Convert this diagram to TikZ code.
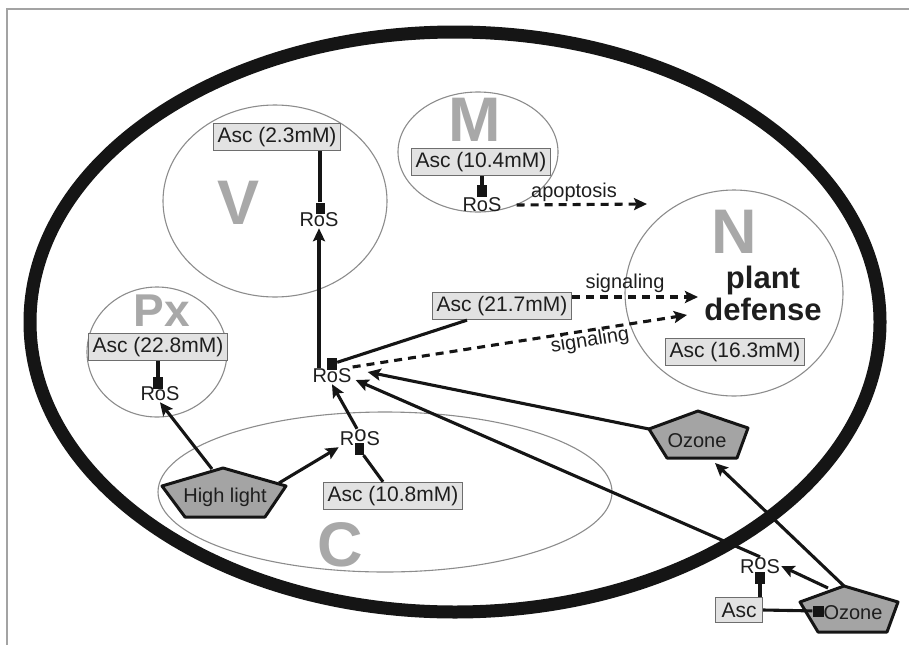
\documentclass[tikz,border=0pt]{standalone}
\usepackage{fontspec}
\setmainfont{Liberation Sans}
\usetikzlibrary{arrows.meta}
\definecolor{letgray}{HTML}{A8A8A8}
\definecolor{ascfill}{HTML}{E2E2E2}
\definecolor{ascdraw}{HTML}{6E6E6E}
\definecolor{pentfill}{HTML}{A4A4A4}
\definecolor{txt}{HTML}{1E1E1E}
\definecolor{thin}{HTML}{8C8C8C}
\definecolor{ink}{HTML}{151515}
\begin{document}
\begin{tikzpicture}[x=1pt,y=-1pt,
  organelle/.style={draw=thin, line width=1.1pt},
  bigletter/.style={text=letgray, font=\fontsize{63}{63}\selectfont\bfseries, inner sep=0pt},
  asc/.style={draw=ascdraw, fill=ascfill, line width=1.3pt, font=\fontsize{21}{23}\selectfont, text=txt, inner xsep=4pt, inner ysep=1pt, minimum height=27pt},
  ros/.style={font=\fontsize{20}{22}\selectfont, text=txt, inner sep=1pt},
  lbl/.style={font=\fontsize{20}{22}\selectfont, text=txt, inner sep=0pt},
  inh/.style={fill=ink, minimum width=10pt, minimum height=12pt, inner sep=0pt},
  link/.style={line width=3.1pt, draw=ink},
  arr/.style={link, -{Stealth[length=13pt,width=12pt,inset=2.5pt]}},
  dasharr/.style={arr, dash pattern=on 8pt off 6pt},
  pent/.style={draw=ink, fill=pentfill, line width=3pt, line join=round}
]
\useasboundingbox (0,0) rectangle (909,645);
% frame
\draw[thin!80, line width=1.3pt] (7,645) -- (7,9) -- (909,9);
% cell wall
\draw[ink, line width=13pt] (455,322) ellipse [x radius=425pt, y radius=290pt];
% organelles
\draw[organelle] (275,201) ellipse [x radius=112pt, y radius=96pt];
\draw[organelle] (478,152) ellipse [x radius=80pt, y radius=60pt];
\draw[organelle] (734,293) ellipse [x radius=109pt, y radius=103pt];
\draw[organelle] (157,352) ellipse [x radius=70pt, y radius=65pt];
\draw[organelle] (385,492) ellipse [x radius=227pt, y radius=80pt];
% big letters
\node[bigletter] (lV) at (239,203) {V};
\node[bigletter] (lM) at (475,120) {M};
\node[bigletter] (lN) at (734,232) {N};
\node[bigletter] (lC) at (340,545) {C};
\node[bigletter, font=\fontsize{46}{46}\selectfont\bfseries] (lPx) at (162,311) {Px};
% plant defense
\node[font=\fontsize{31}{32}\selectfont\bfseries, text=txt, align=center, inner sep=0pt] (pd) at (763,293) {plant\\defense};
% Asc boxes
\node[asc] (ascV) at (277,137) {Asc (2.3mM)};
\node[asc] (ascM) at (481,162) {Asc (10.4mM)};
\node[asc] (ascPx) at (158,347) {Asc (22.8mM)};
\node[asc] (ascCyt) at (502,306) {Asc (21.7mM)};
\node[asc] (ascN) at (735,352) {Asc (16.3mM)};
\node[asc] (ascC) at (393,496) {Asc (10.8mM)};
\node[asc, minimum width=47pt, minimum height=25pt] (ascOut) at (739,610) {Asc};
% ROS labels
\node[ros] (rosV) at (319,220) {RoS};
\node[ros] (rosM) at (482,205) {RoS};
\node[ros] (rosPx) at (160,394) {RoS};
\node[ros] (rosCyt) at (332,376) {RoS};
\node[ros] (rosC) at (360,438) {R\raisebox{4pt}{\fontsize{22}{22}\selectfont o}S};
\node[ros] (rosOut) at (760,566) {R\raisebox{4pt}{\fontsize{22}{22}\selectfont o}S};
% pentagons
\coordinate (h1) at (223,468); \coordinate (h2) at (286,486); \coordinate (h3) at (265,517);
\coordinate (h4) at (185,517); \coordinate (h5) at (162,486);
\draw[pent] (h1) -- (h2) -- (h3) -- (h4) -- (h5) -- cycle;
\node[lbl] (hl) at (225,497) {High light};
\coordinate (o1) at (698,411); \coordinate (o2) at (748,428); \coordinate (o3) at (737,458);
\coordinate (o4) at (667,458); \coordinate (o5) at (649,429);
\draw[pent] (o1) -- (o2) -- (o3) -- (o4) -- (o5) -- cycle;
\node[lbl] (ozA) at (697,441) {Ozone};
\coordinate (p1) at (844,586); \coordinate (p2) at (898,602); \coordinate (p3) at (887,632);
\coordinate (p4) at (818,632); \coordinate (p5) at (800,602);
\draw[pent] (p1) -- (p2) -- (p3) -- (p4) -- (p5) -- cycle;
\node[lbl] (ozB) at (853,613) {Ozone};
% inhibition squares
\node[inh, minimum width=9pt, minimum height=11pt] (sqV) at (320,208) {};
\node[inh] (sqM) at (482,191) {};
\node[inh] (sqPx) at (158,383) {};
\node[inh] (sqCyt) at (332,364) {};
\node[inh, minimum width=9pt] (sqC) at (359,449) {};
\node[inh] (sqOut) at (760,578) {};
\node[inh, minimum width=11pt, minimum height=11pt] (sqOz) at (818,611) {};
% inhibition links
\draw[link] (sqV) -- (sqV |- ascV.south);
\draw[link] (sqM) -- (sqM |- ascM.south);
\draw[link] (sqPx) -- (sqPx |- ascPx.south);
\draw[link] (sqC) -- ([xshift=-10pt]ascC.north);
\draw[link] (sqOut) -- (sqOut |- ascOut.north);
\draw[link] (ascOut.east) -- (sqOz);
\draw[link] (sqCyt) -- ([xshift=-35pt]ascCyt.south);
% arrows
\draw[arr] (rosV.south |- rosCyt.north) -- (rosV.south);
\draw[arr] ([xshift=-3pt]rosC.north) -- (rosCyt.south);
\coordinate (hlA) at (212,469);
\coordinate (hlB) at (279,483);
\draw[arr] (hlA) -- (rosPx.south);
\draw[arr] (hlB) -- (rosC.south west);
\draw[arr] (o5) -- ([xshift=15pt,yshift=4pt]rosCyt.east);
\draw[arr] (rosOut.north) -- ([xshift=3pt,yshift=-4pt]rosCyt.east);
\draw[arr] (p1) -- ([xshift=-22pt,yshift=-5pt]o3);
\coordinate (pB) at (828,588);
\draw[arr] (pB) -- (rosOut.east);
% dashed signalling
\coordinate (apoEnd) at (647,204);
\coordinate (sigEnd1) at (698,297);
\coordinate (sigEnd2) at (687,315);
\draw[dasharr] ([xshift=14pt]rosM.east) -- (apoEnd);
\node[lbl] (apo) at (574,192) {apoptosis};
\draw[dasharr] ([yshift=9pt]ascCyt.east) -- (sigEnd1);
\node[lbl] (sig1) at (625,283) {signaling};
\draw[dasharr] ([yshift=9pt]rosCyt.east) -- (sigEnd2);
\node[lbl, rotate=9] (sig2) at (590,341) {signaling};
\end{tikzpicture}
\end{document}
